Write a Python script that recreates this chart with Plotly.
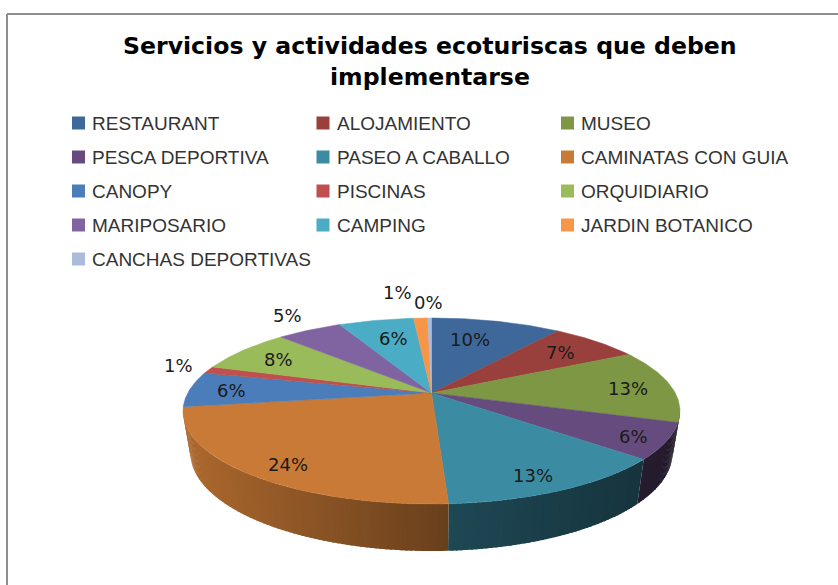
import numpy as np
import plotly.graph_objects as go

categories = ["RESTAURANT", "ALOJAMIENTO", "MUSEO", "PESCA DEPORTIVA", "PASEO A CABALLO",
              "CAMINATAS CON GUIA", "CANOPY", "PISCINAS", "ORQUIDIARIO", "MARIPOSARIO",
              "CAMPING", "JARDIN BOTANICO", "CANCHAS DEPORTIVAS"]
values = [10.2, 7.0, 12.8, 6.2, 12.85, 23.5, 6.1, 1.25, 7.6, 5.1, 5.9, 1.1, 0.3]
colors = ["#3D6899", "#9A403C", "#7D9745", "#664C7E", "#3B8BA3", "#C97A36", "#4C7DBB",
          "#BF504D", "#9ABB59", "#8064A2", "#4BACC6", "#F79646", "#AABBDC"]
title_lines = ["Servicios y actividades ecoturiscas que deben", "implementarse"]

# label placement along the slice radius (above 1 means outside the pie), then a nudge in px
label_r = [0.68, 0.72, 0.80, 0.82, 0.72, 0.68, 0.82, 1.13, 0.68, 1.18, 0.72, 1.35, 1.25]
label_dx = [-6, 11, 5, 9, 7, -20, -2, -1, -25, 0, 2, -19, -1]
label_dy = [-5, -3, 2, 4, 13, 16, 1, -1, -4, -3, -2, 1, 3]

FONT = "Liberation Sans"
LABEL_FONT = "DejaVu Sans"

# pie geometry in page pixels, the top disc is seen in perspective
CX, CY, RX, RY = 431.5, 411, 248.5, 93
CX2, CY2, RX2, RY2 = 431.5, 453, 241, 98
APEX = 0.194
STRIP = np.radians(1)


def rim(theta):
    u, v = np.sin(theta), np.cos(theta)
    den = 1 + APEX * v
    return u * np.sqrt(1 - APEX ** 2) / den, -(v + APEX) / den


def shade(color, x):
    f = np.interp(x, [190, 451, 670], [0.85, 0.52, 0.36])
    r, g, b = [int(color[i:i + 2], 16) for i in (1, 3, 5)]
    return f"rgb({int(r * f)},{int(g * f)},{int(b * f)})"


fracs = np.array(values) / sum(values)
edges = np.concatenate([[0], np.cumsum(fracs)]) * 2 * np.pi

fig = go.Figure()

# side wall, cut in thin strips so the shading runs along x
# each strip overlaps the next one a little to hide the seams
for i, color in enumerate(colors):
    start, end = edges[i], edges[i + 1]
    n = max(2, int((end - start) / STRIP) + 1)
    ts = np.linspace(start, end, n + 1)
    for a, b in zip(ts[:-1], ts[1:]):
        Xa, Ya = rim(a)
        Xb, Yb = rim(b)
        if Ya < 0 and Yb < 0:
            continue
        Xc, Yc = rim(min(b + STRIP / 2, end))
        xs = [CX + RX * Xa, CX + RX * Xc, CX2 + RX2 * Xc, CX2 + RX2 * Xa, CX + RX * Xa]
        ys = [CY + RY * Ya, CY + RY * Yc, CY2 + RY2 * Yc, CY2 + RY2 * Ya, CY + RY * Ya]
        c = shade(color, (CX + RX * Xa + CX + RX * Xb) / 2)
        fig.add_trace(go.Scatter(x=xs, y=ys, mode="lines", fill="toself", fillcolor=c,
                                 line=dict(width=0), hoverinfo="skip"))

# top of the pie
apex_x, apex_y = CX, CY - RY * APEX
for i, color in enumerate(colors):
    ts = np.linspace(edges[i], edges[i + 1], 60)
    X, Y = rim(ts)
    xs = np.concatenate([[apex_x], CX + RX * X, [apex_x]])
    ys = np.concatenate([[apex_y], CY + RY * Y, [apex_y]])
    fig.add_trace(go.Scatter(x=xs, y=ys, mode="lines", fill="toself", fillcolor=color,
                             line=dict(color=color, width=0.5), name=categories[i],
                             hoverinfo="name"))

# percentage labels
for i, v in enumerate(values):
    X, Y = rim((edges[i] + edges[i + 1]) / 2)
    fig.add_annotation(x=apex_x + label_r[i] * (CX + RX * X - apex_x) + label_dx[i],
                       y=apex_y + label_r[i] * (CY + RY * Y - apex_y) + label_dy[i],
                       text=f"{v:.0f}%", showarrow=False,
                       font=dict(family=LABEL_FONT, size=18, color="#1a1a1a"))

# legend, three columns
for i, name in enumerate(categories):
    col, row = i % 3, i // 3
    lx = 78.5 + 244.5 * col
    ly = 123 + 34 * row
    fig.add_trace(go.Scatter(x=[lx], y=[ly], mode="markers", hoverinfo="skip",
                             marker=dict(symbol="square", size=13, color=colors[i])))
    fig.add_annotation(x=lx + 11.5, y=ly, text=name, showarrow=False, xanchor="left",
                       font=dict(family=FONT, size=19, color="#333333"))

for k, line in enumerate(title_lines):
    fig.add_annotation(x=430, y=46 + 31 * k, text=f"<b>{line}</b>", showarrow=False,
                       font=dict(family="DejaVu Sans", size=23.6, color="#000000"))

# chart frame, runs off the right and bottom of the page
fig.add_shape(type="line", x0=7, x1=838, y0=14, y1=14, line=dict(color="#8E8E8E", width=2))
fig.add_shape(type="line", x0=7, x1=7, y0=14, y1=585, line=dict(color="#8E8E8E", width=2))

fig.update_xaxes(range=[0, 838], visible=False)
fig.update_yaxes(range=[585, 0], visible=False)
fig.update_layout(width=838, height=585, margin=dict(l=0, r=0, t=0, b=0), showlegend=False,
                  paper_bgcolor="white", plot_bgcolor="white")
# the default page margin would push the plot off the window
fig.write_html("out.html", config=dict(displayModeBar=False),
               post_script="document.body.style.margin='0';document.body.style.overflow='hidden';")
